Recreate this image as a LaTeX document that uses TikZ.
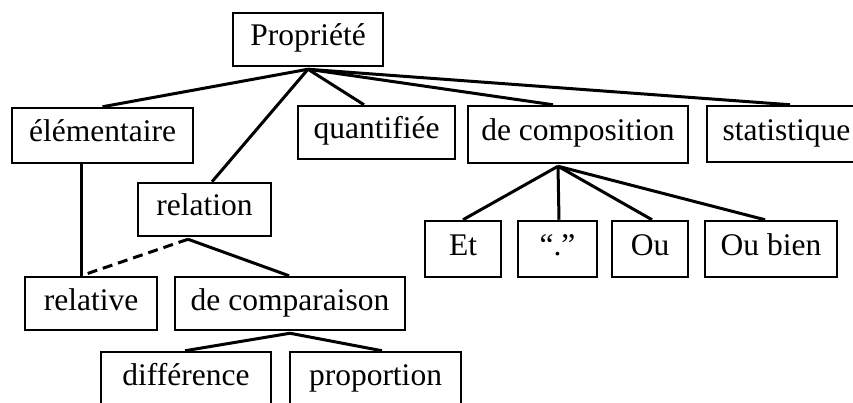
\documentclass[tikz,border=0pt]{standalone}
\usepackage{fontspec}
\setmainfont{Liberation Serif}
\begin{document}
\begin{tikzpicture}[x=1pt,y=-1pt,
  box/.style={draw,line width=2.5pt,inner sep=0pt,text height=22pt,text depth=9pt,font=\fontsize{31.5}{36}\selectfont},
  link/.style={line width=3pt},
  dlink/.style={line width=3pt,dash pattern=on 10pt off 6pt}]
\useasboundingbox (0,0) rectangle (853,403);
% boxes: centre, width, height
\node[box,minimum width=150pt,minimum height=53pt] (root) at (308,39.5) {Propriété};
\node[box,minimum width=181pt,minimum height=55pt] (elem) at (102.5,135.5) {élémentaire};
\node[box,minimum width=157pt,minimum height=53pt] (quant) at (376.5,132.5) {quantifiée};
\node[box,minimum width=220pt,minimum height=57pt] (decomp) at (578,134.5) {de composition};
\node[box,minimum width=159pt,minimum height=56pt] (stat) at (786.5,134) {statistique};
\node[box,minimum width=133pt,minimum height=53pt] (rel) at (204.5,209.5) {relation};
\node[box,minimum width=132pt,minimum height=53pt] (relative) at (91,303.5) {relative};
\node[box,minimum width=230pt,minimum height=53pt] (decompar) at (290,303.5) {de comparaison};
\node[box,minimum width=170pt,minimum height=54pt] (diff) at (186,379) {différence};
\node[box,minimum width=171pt,minimum height=54pt] (prop) at (375.5,379) {proportion};
\node[box,minimum width=76pt,minimum height=56pt] (et) at (463,249) {Et};
\node[box,minimum width=79pt,minimum height=56pt] (dot) at (557.5,249) {“.”};
\node[box,minimum width=76pt,minimum height=56pt] (ou) at (650,249) {Ou};
\node[box,minimum width=132pt,minimum height=56pt] (oubien) at (771,249) {Ou bien};
% junction points
\coordinate (rootj) at ([yshift=-2pt]root.south);
\coordinate (relj) at ([xshift=-16.5pt,yshift=-2pt]rel.south);
\coordinate (decompj) at ([xshift=-20pt,yshift=-2pt]decomp.south);
\coordinate (decomparj) at ([yshift=-2pt]decompar.south);
\coordinate (elemj) at ([xshift=-21.5pt]elem.south);
\coordinate (relativej) at ([xshift=-10pt]relative.north);
% connectors
\draw[link] (rootj) -- (elem.north);
\draw[link] (rootj) -- ([xshift=7.5pt]rel.north);
\draw[link] (rootj) -- ([xshift=-12.5pt]quant.north);
\draw[link] (rootj) -- ([xshift=-25pt]decomp.north);
\draw[link] (rootj) -- ([xshift=3.5pt]stat.north);
\draw[link] (elemj) -- (relativej);
\draw[dlink] (relj) -- (relativej);
\draw[link] (relj) -- ([xshift=-1pt]decompar.north);
\draw[link] (decomparj) -- ([xshift=-1pt]diff.north);
\draw[link] (decomparj) -- ([xshift=6.5pt]prop.north);
\draw[link] (decompj) -- (et.north);
\draw[link] (decompj) -- ([xshift=1.5pt]dot.north);
\draw[link] (decompj) -- ([xshift=2pt]ou.north);
\draw[link] (decompj) -- ([xshift=-6pt]oubien.north);
\end{tikzpicture}
\end{document}
